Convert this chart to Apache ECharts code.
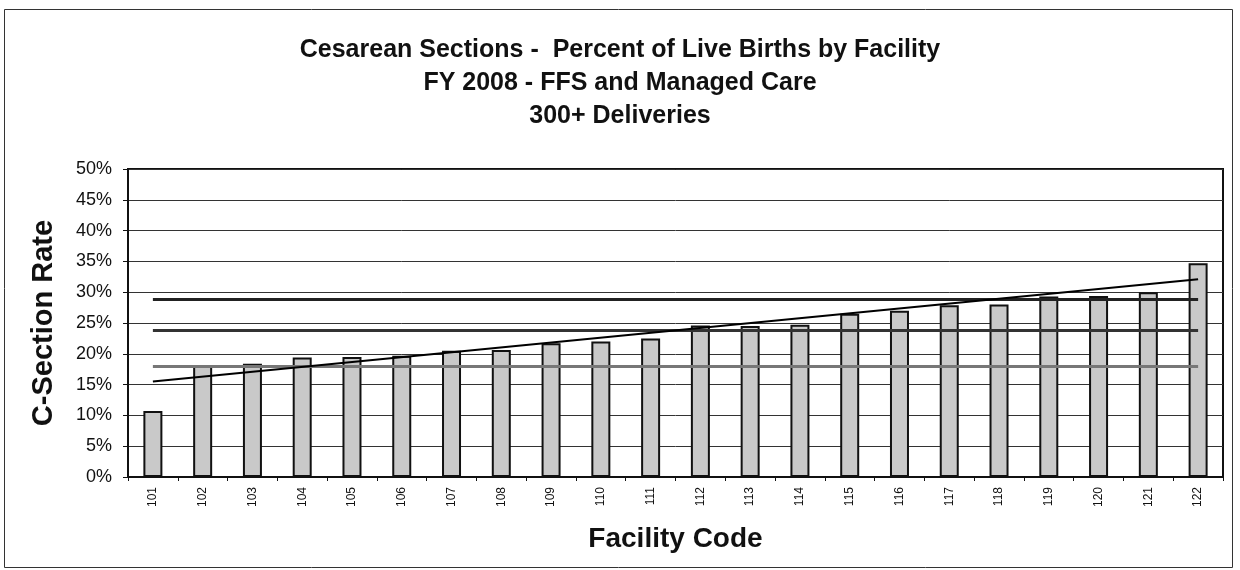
<!DOCTYPE html>
<html>
<head>
<meta charset="utf-8">
<script src="https://cdn.jsdelivr.net/npm/echarts@6/dist/echarts.min.js"></script>
<style>
  html, body { margin: 0; padding: 0; background: #fff; }
  #chart { width: 1240px; height: 570px; }
</style>
</head>
<body>
<div id="chart"></div>
<script>
  // facility codes and c-section rates (%)
  const facilities = ['101', '102', '103', '104', '105', '106', '107', '108', '109', '110', '111',
    '112', '113', '114', '115', '116', '117', '118', '119', '120', '121', '122']
  const rates = [10.7, 18.0, 18.4, 19.4, 19.5, 19.7, 20.5, 20.6, 21.7, 22.0, 22.5,
    24.6, 24.5, 24.7, 26.5, 27.0, 27.9, 28.0, 29.3, 29.4, 30.0, 34.7]

  // horizontal reference levels and trend end points (%)
  const refHigh = 28.8
  const refMid = 23.9
  const refLow = 17.9
  const trendStart = 15.5
  const trendEnd = 32.1

  const titleLines = ['Cesarean Sections -  Percent of Live Births by Facility', 'FY 2008 - FFS and Managed Care', '300+ Deliveries']

  const font = '"Liberation Sans", Arial, sans-serif'
  const first = facilities[0]
  const last = facilities[facilities.length - 1]

  const flatLine = (v, color, width) => [
    { coord: [first, v], lineStyle: { color: color, width: width, type: 'solid' } },
    { coord: [last, v] }
  ]

  const chart = echarts.init(document.getElementById('chart'), null, { renderer: 'canvas' })

  chart.setOption({
    animation: false,
    backgroundColor: '#fff',
    textStyle: { fontFamily: font },
    title: {
      text: titleLines.join('\n'),
      left: 'center',
      top: 29,
      textStyle: { fontFamily: font, fontSize: 25, fontWeight: 'bold', color: '#111', lineHeight: 33 }
    },
    graphic: [
      {
        type: 'rect',
        shape: { x: 4.5, y: 9.5, width: 1228, height: 558 },
        style: { fill: 'none', stroke: '#333', lineWidth: 1 },
        silent: true
      }
    ],
    grid: {
      left: 128,
      right: 17,
      top: 169,
      bottom: 93,
      show: true,
      borderColor: '#111',
      borderWidth: 2,
      containLabel: false
    },
    xAxis: {
      type: 'category',
      data: facilities,
      name: 'Facility Code',
      nameLocation: 'middle',
      nameGap: 48,
      nameTextStyle: { fontFamily: font, fontSize: 28, fontWeight: 'bold', color: '#111' },
      axisLine: { lineStyle: { color: '#111', width: 2 } },
      axisTick: { show: true, length: 4, lineStyle: { color: '#111' } },
      axisLabel: { rotate: 90, fontSize: 12, color: '#111', margin: 10, interval: 0 }
    },
    yAxis: {
      type: 'value',
      min: 0,
      max: 50,
      interval: 5,
      name: 'C-Section Rate',
      nameLocation: 'middle',
      nameGap: 70,
      nameRotate: 90,
      nameTextStyle: { fontFamily: font, fontSize: 29, fontWeight: 'bold', color: '#111' },
      axisLine: { show: true, lineStyle: { color: '#111', width: 2 } },
      axisTick: { show: true, length: 5, lineStyle: { color: '#111' } },
      axisLabel: { formatter: '{value}%', fontSize: 18, color: '#111', margin: 16 },
      splitLine: { show: true, lineStyle: { color: '#333', width: 1 } }
    },
    series: [
      {
        type: 'bar',
        data: rates,
        barWidth: 19,
        itemStyle: {
          color: '#c9c9c9',
          borderColor: '#111',
          borderWidth: 2
        },
        markLine: {
          silent: true,
          symbol: 'none',
          label: { show: false },
          data: [
            flatLine(refHigh, '#222', 3),
            flatLine(refMid, '#333', 3),
            flatLine(refLow, '#777', 3),
            [
              { coord: [first, trendStart], lineStyle: { color: '#000', width: 2, type: 'solid' } },
              { coord: [last, trendEnd] }
            ]
          ]
        }
      }
    ]
  })

  window.addEventListener('resize', () => chart.resize())
</script>
</body>
</html>
